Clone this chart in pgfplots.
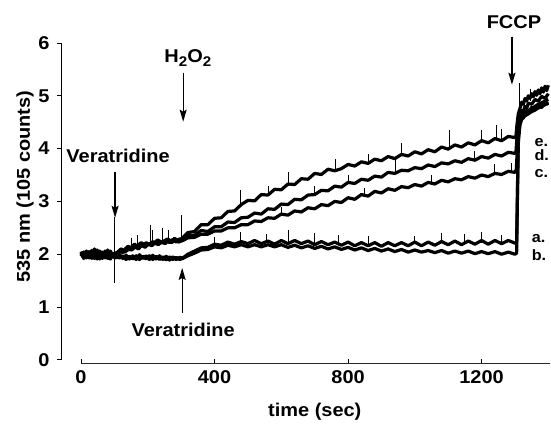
\documentclass[border=0pt]{standalone}
\usepackage{fontspec}
\setmainfont{Liberation Sans}[FakeStretch=1.08]
\usepackage{pgfplots}
\pgfplotsset{compat=1.18}
\usetikzlibrary{arrows.meta}
\newcommand\ff{\fontsize{18.5pt}{21pt}\selectfont\bfseries}
\newcommand\fl{\fontsize{15pt}{17pt}\selectfont\bfseries}
\newcommand\sub[1]{\raisebox{-0.4ex}{\fontsize{14pt}{15pt}\selectfont #1}}
\pgfplotsset{trace/.style={black, line width=3.2pt, mark=none, line join=round}}
\begin{document}
\begin{tikzpicture}
\path[use as bounding box] (-61pt,-68pt) rectangle (490pt,363pt);
\begin{axis}[
  at={(0pt,0pt)}, anchor=south west,
  scale only axis, width=489pt, height=320pt,
  xmin=-60, xmax=1405, ymin=-0.06, ymax=6,
  axis line style={draw=none},
  xtick={0,400,800,1200}, ytick={0,1,2,3,4,5,6},
  xtick pos=bottom, ytick pos=left,
  tick align=outside, major tick length=4pt,
  tick style={black, line width=0.8pt},
  every major x tick/.append style={yshift=4pt},
  /pgf/number format/assume math mode=true,
  /pgf/number format/1000 sep={},
  ticklabel style={font=\ff},
  yticklabel style={xshift=-4pt},
  label style={font=\ff},
  xlabel={time (sec)}, ylabel={535 nm (105 counts)},
  xlabel style={at={(axis description cs:0.519,-0.153)}, anchor=center},
  ylabel style={at={(axis description cs:-0.0736,0.551)}, anchor=center},
  clip=false,
]
% e
\addplot[trace] coordinates {(0,2.03)(8,1.95)(16,2.06)(24,1.97)(32,2.04)(40,1.94)(48,2.08)(56,1.98)(64,2.03)(72,1.95)(80,2.05)(88,1.97)(96,2.02)(102,2.0)
(110,2.04)(120,2.1)(130,2.07)(140,2.15)(150,2.12)(160,2.19)(170,2.15)(180,2.22)(190,2.18)(206,2.2)(220,2.22)(230,2.27)(240,2.22)(260,2.29)(270,2.24)(280,2.3)(290,2.26)(303,2.3)
(320,2.41)(340,2.43)(360,2.56)(380,2.56)(400,2.68)(420,2.69)(440,2.81)(460,2.82)(480,2.94)(500,3.02)(520,3.01)(540,3.13)(560,3.12)(580,3.23)(600,3.22)(620,3.33)(640,3.32)(660,3.43)(680,3.42)(700,3.53)(720,3.51)(740,3.61)(760,3.58)(780,3.62)(800,3.7)(820,3.67)(840,3.75)(860,3.72)(880,3.80)(900,3.77)(920,3.85)(940,3.81)(960,3.89)(980,3.86)(1000,3.94)(1020,3.90)(1040,3.98)(1060,3.94)(1080,4.03)(1100,3.99)(1120,4.07)(1140,4.03)(1160,4.11)(1180,4.07)(1200,4.15)(1220,4.11)(1240,4.19)(1260,4.15)(1280,4.23)(1300,4.21)
(1303,4.24)(1306,4.45)(1310,4.66)(1315,4.76)(1320,4.88)(1325,4.84)(1330,4.95)(1335,4.9)(1340,5.0)(1345,4.95)(1350,5.04)(1355,4.98)(1360,5.08)(1365,5.01)(1370,5.11)(1375,5.04)(1380,5.15)(1385,5.07)(1390,5.18)(1395,5.1)(1400,5.2)};
% d
\addplot[trace] coordinates {(0,1.96)(8,2.04)(16,1.93)(24,2.05)(32,1.97)(40,2.1)(48,1.95)(56,2.04)(64,1.92)(72,2.06)(80,1.97)(88,2.03)(96,1.96)(104,2.02)
(115,2.06)(125,2.03)(135,2.12)(145,2.08)(155,2.16)(165,2.12)(175,2.2)(185,2.15)(195,2.22)(205,2.17)(215,2.24)(225,2.19)(235,2.25)(245,2.21)(255,2.27)(265,2.22)(275,2.28)(285,2.23)(295,2.29)(305,2.27)
(320,2.35)(340,2.36)(360,2.45)(380,2.43)(400,2.52)(420,2.52)(440,2.61)(460,2.6)(480,2.69)(500,2.7)(520,2.78)(540,2.76)(560,2.86)(580,2.85)(600,2.95)(620,2.94)(640,3.04)(660,3.03)(680,3.12)(700,3.13)(720,3.21)(740,3.2)(760,3.29)(780,3.27)(800,3.36)(820,3.34)(840,3.42)(860,3.4)(880,3.48)(900,3.46)(920,3.55)(940,3.53)(960,3.59)(980,3.58)(1000,3.64)(1020,3.62)(1040,3.69)(1060,3.66)(1080,3.73)(1100,3.71)(1120,3.77)(1140,3.74)(1160,3.81)(1180,3.78)(1200,3.85)(1220,3.82)(1240,3.89)(1260,3.86)(1280,3.93)(1300,3.91)
(1303,3.94)(1306,4.2)(1310,4.5)(1315,4.64)(1320,4.72)(1325,4.7)(1330,4.8)(1335,4.76)(1340,4.86)(1350,4.84)(1360,4.93)(1370,4.9)(1380,4.99)(1390,4.95)(1400,5.04)};
% c
\addplot[trace] coordinates {(0,2.05)(8,1.92)(16,2.0)(24,1.93)(32,2.07)(40,1.98)(48,1.91)(56,2.06)(64,1.99)(72,1.93)(80,2.08)(88,1.94)(96,2.0)(104,1.98)
(112,2.02)(122,2.07)(132,2.04)(142,2.1)(152,2.08)(162,2.14)(172,2.1)(182,2.17)(192,2.13)(202,2.2)(212,2.16)(222,2.22)(232,2.18)(242,2.24)(252,2.2)(262,2.26)(272,2.22)(282,2.28)(292,2.23)(305,2.26)
(320,2.31)(340,2.32)(360,2.38)(380,2.38)(400,2.44)(420,2.44)(440,2.5)(460,2.5)(480,2.56)(500,2.56)(520,2.63)(540,2.62)(560,2.69)(580,2.68)(600,2.76)(620,2.74)(640,2.82)(660,2.8)(680,2.88)(700,2.86)(720,2.94)(740,2.92)(760,3.0)(780,2.98)(800,3.07)(820,3.04)(840,3.13)(860,3.1)(880,3.19)(900,3.16)(920,3.24)(940,3.21)(960,3.28)(980,3.26)(1000,3.32)(1020,3.29)(1040,3.36)(1060,3.33)(1080,3.4)(1100,3.37)(1120,3.43)(1140,3.41)(1160,3.47)(1180,3.44)(1200,3.5)(1220,3.47)(1240,3.53)(1260,3.51)(1280,3.57)(1300,3.55)
(1304,3.6)(1308,4.1)(1312,4.44)(1316,4.56)(1320,4.62)(1330,4.68)(1340,4.72)(1350,4.76)(1360,4.8)(1370,4.84)(1380,4.87)(1390,4.9)(1400,4.93)};
% a
\addplot[trace] coordinates {(0,1.98)(8,2.04)(16,1.94)(24,2.02)(32,1.92)(40,2.05)(48,1.97)(56,1.91)(64,2.04)(72,1.99)(80,1.92)(88,2.06)(96,1.95)(104,1.93)
(115,1.99)(125,1.92)(135,1.98)(145,1.91)(155,1.97)(165,1.9)(175,1.99)(185,1.92)(195,1.97)(205,1.9)(215,1.98)(225,1.91)(235,1.97)(245,1.9)(255,1.96)(265,1.89)(275,1.95)(285,1.9)(295,1.94)(305,1.93)
(320,2.0)(340,2.06)(360,2.12)(380,2.13)(400,2.19)(420,2.17)(440,2.23)(460,2.19)(480,2.24)(500,2.2)(520,2.26)(540,2.2)(560,2.25)(580,2.19)(600,2.26)(620,2.2)(640,2.26)(660,2.2)(680,2.25)(700,2.18)(720,2.24)(740,2.18)(760,2.23)(780,2.17)(800,2.23)(820,2.16)(840,2.22)(860,2.16)(880,2.22)(900,2.15)(920,2.22)(940,2.16)(960,2.22)(980,2.16)(1000,2.23)(1020,2.16)(1040,2.23)(1060,2.17)(1080,2.24)(1100,2.18)(1120,2.25)(1140,2.18)(1160,2.25)(1180,2.19)(1200,2.26)(1220,2.19)(1240,2.26)(1260,2.2)(1280,2.26)(1300,2.21)
(1305,2.22)(1307,3.0)(1310,4.25)(1313,4.4)(1316,4.52)(1320,4.62)(1325,4.58)(1330,4.7)(1340,4.66)(1350,4.78)(1360,4.73)(1370,4.84)(1380,4.78)(1390,4.88)(1400,4.84)};
% b
\addplot[trace] coordinates {(0,2.01)(8,1.93)(16,2.03)(24,1.95)(32,2.0)(40,1.92)(48,2.03)(56,1.96)(64,1.93)(72,2.02)(80,1.95)(88,1.91)(96,2.0)(104,1.95)
(115,1.93)(125,1.97)(135,1.9)(145,1.96)(155,1.91)(165,1.97)(175,1.9)(185,1.96)(195,1.91)(205,1.97)(215,1.9)(225,1.96)(235,1.9)(245,1.95)(255,1.89)(265,1.95)(275,1.9)(285,1.94)(295,1.9)(305,1.92)
(320,1.97)(340,2.02)(360,2.08)(380,2.09)(400,2.14)(420,2.12)(440,2.17)(460,2.14)(480,2.18)(500,2.14)(520,2.18)(540,2.14)(560,2.18)(580,2.14)(600,2.18)(620,2.13)(640,2.17)(660,2.12)(680,2.16)(700,2.11)(720,2.15)(740,2.1)(760,2.14)(780,2.09)(800,2.13)(820,2.08)(840,2.12)(860,2.07)(880,2.11)(900,2.06)(920,2.1)(940,2.05)(960,2.09)(980,2.04)(1000,2.08)(1020,2.04)(1040,2.07)(1060,2.03)(1080,2.07)(1100,2.02)(1120,2.06)(1140,2.02)(1160,2.06)(1180,2.01)(1200,2.05)(1220,2.01)(1240,2.05)(1260,2.0)(1280,2.04)(1300,2.0)
(1305,2.02)(1307,2.9)(1310,4.1)(1315,4.45)(1320,4.55)(1330,4.62)(1340,4.66)(1350,4.7)(1360,4.73)(1370,4.77)(1380,4.8)(1390,4.83)(1400,4.86)};
% spikes (noise transients)
\addplot[black, line width=0.9pt, mark=none, unbounded coords=jump] coordinates {
(100,1.46)(100,2.7)(nan,nan)(150,2.1)(150,2.3)(nan,nan)(170,2.15)(170,2.36)(nan,nan)(207,2.2)(207,2.56)(nan,nan)(213,2.17)(213,2.45)(nan,nan)(244,2.24)(244,2.5)(nan,nan)(261,2.27)(261,2.46)(nan,nan)(302,2.3)(302,2.75)(nan,nan)
(479,2.92)(479,3.22)(nan,nan)(560,3.12)(560,3.3)(nan,nan)(621,3.3)(621,3.55)(nan,nan)(761,3.6)(761,3.8)(nan,nan)(860,3.73)(860,3.9)(nan,nan)(961,3.87)(961,4.1)(nan,nan)(1105,4.0)(1105,4.36)(nan,nan)(1200,4.13)(1200,4.35)(nan,nan)(1245,4.17)(1245,4.45)(nan,nan)(1260,4.16)(1260,4.38)(nan,nan)
(700,3.13)(700,3.3)(nan,nan)(800,3.35)(800,3.5)(nan,nan)(942,3.53)(942,3.8)(nan,nan)(1180,3.78)(1180,3.95)(nan,nan)
(600,2.75)(600,2.9)(nan,nan)(850,3.1)(850,3.25)(nan,nan)(1050,3.33)(1050,3.5)(nan,nan)(1240,3.52)(1240,3.7)(nan,nan)(1290,3.56)(1290,3.72)(nan,nan)
(400,2.17)(400,2.32)(nan,nan)(477,2.22)(477,2.42)(nan,nan)(555,2.22)(555,2.38)(nan,nan)(621,2.22)(621,2.45)(nan,nan)(700,2.2)(700,2.4)(nan,nan)(770,2.2)(770,2.36)(nan,nan)(860,2.2)(860,2.34)(nan,nan)(1000,2.2)(1000,2.35)(nan,nan)(1080,2.22)(1080,2.4)(nan,nan)(1150,2.22)(1150,2.38)(nan,nan)(1200,2.22)(1200,2.42)(nan,nan)(1260,2.22)(1260,2.36)(nan,nan)
(1312,4.5)(1312,5.25)(nan,nan)(1345,4.9)(1345,5.12)};
% axis lines
\draw[black, line width=0.9pt] (axis cs:-60,0) -- (axis cs:-60,6);
\draw[black!85, line width=0.8pt] (axis cs:0,-0.06) -- (axis cs:1405,-0.06);
% annotations
\tikzset{arr/.style={line width=1.3pt, -{Stealth[length=12pt,width=7pt,inset=2pt]}}}
\draw[arr] (axis cs:102,3.56) -- (axis cs:102,2.69);
\node[font=\ff] at (axis cs:111,3.86) {Veratridine};
\draw[arr] (axis cs:306,5.44) -- (axis cs:306,4.51);
\node[font=\ff, anchor=base] at (axis cs:320,5.63) {H\sub{2}O\sub{2}};
\draw[arr] (axis cs:303,0.89) -- (axis cs:303,1.74);
\node[font=\ff] at (axis cs:306,0.57) {Veratridine};
\draw[arr] (axis cs:1291,6.12) -- (axis cs:1291,5.21);
\node[font=\ff] at (axis cs:1297,6.40) {FCCP};
\node[font=\fl, anchor=base west, inner sep=0pt] at (axis cs:1358,4.04) {e.};
\node[font=\fl, anchor=base west, inner sep=0pt] at (axis cs:1358,3.78) {d.};
\node[font=\fl, anchor=base west, inner sep=0pt] at (axis cs:1358,3.45) {c.};
\node[font=\fl, anchor=base west, inner sep=0pt] at (axis cs:1350,2.23) {a.};
\node[font=\fl, anchor=base west, inner sep=0pt] at (axis cs:1350,1.89) {b.};
\end{axis}
\end{tikzpicture}
\end{document}
